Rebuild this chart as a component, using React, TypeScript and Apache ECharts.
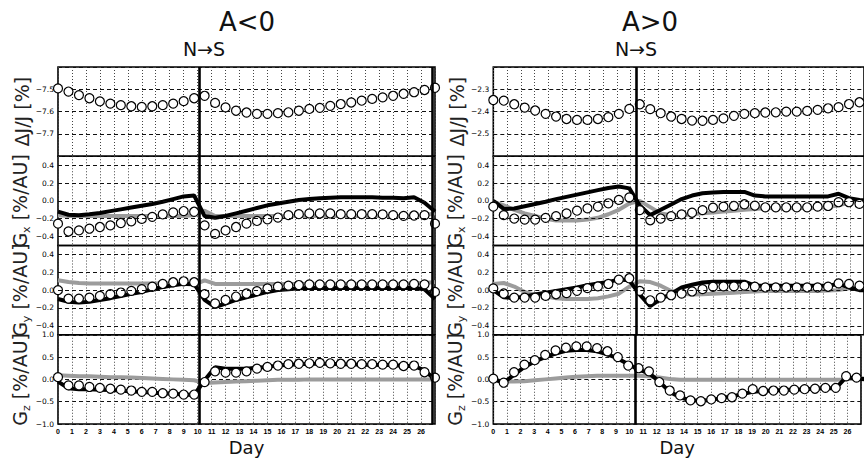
import React, { useEffect, useRef } from 'react';
import * as echarts from 'echarts';

// ---------------- data ----------------
const N_POINTS = 37;
const LEFT_STEP = 0.75;   // days between longitude bins (left panel)
const RIGHT_STEP = 0.762; // days between longitude bins (right panel)
const leftDays = Array.from({ length: N_POINTS }, (_, i) => +(i * LEFT_STEP).toFixed(3));
const rightDays = Array.from({ length: N_POINTS }, (_, i) => +(i * RIGHT_STEP).toFixed(3));

const dayTicks = [0, 1, 2, 3, 4, 5, 6, 7, 8, 9, 10, 11, 12, 13, 14, 15, 16, 17, 18, 19, 20, 21, 22, 23, 24, 25, 26];
const gTicks = [-0.4, -0.2, 0, 0.2, 0.4];

const leftBoundaries = [10.1, 26.8];
const rightBoundaries = [10.4];

// A<0 (left)
const leftDJ = [-7.496, -7.510, -7.526, -7.540, -7.554, -7.564, -7.571, -7.576, -7.579, -7.576, -7.571, -7.564, -7.553, -7.540,
  -7.529, -7.561, -7.581, -7.596, -7.604, -7.610, -7.610, -7.607, -7.603, -7.596, -7.588, -7.583, -7.574, -7.566, -7.559, -7.551,
  -7.543, -7.536, -7.529, -7.520, -7.513, -7.503, -7.493];

const leftGxObs = [-0.255, -0.343, -0.331, -0.312, -0.293, -0.274, -0.248, -0.229, -0.202, -0.179, -0.152, -0.130, -0.114, -0.122,
  -0.274, -0.370, -0.331, -0.293, -0.255, -0.225, -0.206, -0.187, -0.160, -0.149, -0.141, -0.141, -0.141, -0.149, -0.149, -0.149,
  -0.149, -0.152, -0.160, -0.168, -0.164, -0.160, -0.255];
const leftGxModel = [-0.12, -0.155, -0.16, -0.15, -0.135, -0.115, -0.095, -0.075, -0.055, -0.035, -0.01, 0.02, 0.05, 0.06,
  -0.17, -0.19, -0.17, -0.14, -0.11, -0.08, -0.05, -0.03, -0.01, 0.01, 0.02, 0.03, 0.035, 0.04, 0.04, 0.04,
  0.04, 0.035, 0.035, 0.03, 0.04, -0.02, -0.12];
const leftGxGray = [-0.16, -0.17, -0.17, -0.17, -0.17, -0.17, -0.17, -0.17, -0.17, -0.17, -0.17, -0.17, -0.17, -0.16,
  -0.11, -0.17, -0.17, -0.17, -0.17, -0.17, -0.17, -0.17, -0.17, -0.17, -0.17, -0.17, -0.17, -0.17, -0.17, -0.17,
  -0.17, -0.17, -0.17, -0.17, -0.17, -0.16, -0.14];

const leftGyObs = [0.0, -0.095, -0.095, -0.084, -0.065, -0.046, -0.027, -0.008, 0.011, 0.038, 0.069, 0.088, 0.099, 0.088,
  -0.046, -0.149, -0.110, -0.072, -0.038, -0.011, 0.019, 0.038, 0.050, 0.057, 0.065, 0.065, 0.065, 0.065, 0.065, 0.065,
  0.065, 0.065, 0.065, 0.065, 0.069, 0.065, -0.02];
const leftGyModel = [-0.10, -0.13, -0.14, -0.13, -0.11, -0.09, -0.065, -0.04, -0.02, 0.01, 0.035, 0.055, 0.07, 0.07,
  -0.11, -0.19, -0.15, -0.11, -0.08, -0.05, -0.02, 0.0, 0.01, 0.02, 0.025, 0.025, 0.025, 0.025, 0.025, 0.025,
  0.025, 0.025, 0.025, 0.025, 0.025, 0.01, -0.10];
const leftGyGray = [0.11, 0.09, 0.08, 0.075, 0.075, 0.075, 0.075, 0.075, 0.075, 0.075, 0.075, 0.075, 0.07, 0.06,
  0.11, 0.07, 0.07, 0.07, 0.07, 0.07, 0.07, 0.07, 0.07, 0.07, 0.07, 0.07, 0.07, 0.07, 0.07, 0.07,
  0.07, 0.07, 0.07, 0.07, 0.075, 0.08, 0.09];

const leftGzObs = [0.05, -0.135, -0.135, -0.17, -0.19, -0.21, -0.23, -0.25, -0.28, -0.28, -0.31, -0.32, -0.34, -0.34,
  -0.06, 0.18, 0.15, 0.15, 0.18, 0.24, 0.28, 0.31, 0.34, 0.35, 0.36, 0.37, 0.36, 0.35, 0.35, 0.34,
  0.34, 0.33, 0.33, 0.30, 0.31, 0.16, 0.04];
const leftGzModel = [-0.05, -0.2, -0.22, -0.22, -0.23, -0.24, -0.25, -0.27, -0.28, -0.3, -0.31, -0.32, -0.34, -0.35,
  -0.02, 0.27, 0.24, 0.24, 0.24, 0.26, 0.28, 0.31, 0.33, 0.34, 0.35, 0.35, 0.35, 0.34, 0.34, 0.33,
  0.33, 0.32, 0.32, 0.30, 0.30, 0.2, 0.0];
const leftGzGray = [0.09, 0.08, 0.07, 0.07, 0.06, 0.05, 0.05, 0.04, 0.03, 0.02, 0.01, 0.0, -0.01, -0.02,
  -0.08, -0.07, -0.06, -0.05, -0.04, -0.03, -0.02, -0.01, -0.01, -0.01, 0.0, 0.0, 0.0, 0.0, 0.0, 0.0,
  0.0, 0.0, 0.0, 0.0, 0.0, 0.0, 0.0];

// A>0 (right)
const rightDJ = [-2.348, -2.351, -2.367, -2.382, -2.395, -2.410, -2.422, -2.433, -2.437, -2.437, -2.433, -2.425, -2.410, -2.388,
  -2.367, -2.389, -2.407, -2.422, -2.433, -2.440, -2.441, -2.437, -2.430, -2.419, -2.410, -2.407, -2.404, -2.403, -2.400, -2.400,
  -2.397, -2.392, -2.385, -2.380, -2.366, -2.358, -2.350];

const rightGxObs = [-0.065, -0.16, -0.198, -0.21, -0.21, -0.19, -0.171, -0.141, -0.11, -0.084, -0.065, -0.027, 0.011, 0.038,
  -0.103, -0.217, -0.198, -0.171, -0.152, -0.133, -0.103, -0.076, -0.065, -0.057, -0.038, -0.053, -0.072, -0.072, -0.072, -0.072,
  -0.072, -0.065, -0.057, -0.015, -0.015, -0.034, -0.05];
const rightGxModel = [0.0, -0.09, -0.085, -0.06, -0.035, -0.01, 0.02, 0.045, 0.07, 0.095, 0.12, 0.145, 0.16, 0.14,
  -0.05, -0.16, -0.1, -0.04, 0.02, 0.06, 0.085, 0.095, 0.1, 0.1, 0.1, 0.06, 0.05, 0.05, 0.05, 0.05,
  0.05, 0.05, 0.05, 0.08, 0.03, 0.01, 0.0];
const rightGxGray = [-0.01, -0.05, -0.1, -0.14, -0.17, -0.2, -0.22, -0.22, -0.22, -0.21, -0.19, -0.15, -0.1, -0.03,
  0.0, -0.07, -0.14, -0.16, -0.16, -0.15, -0.14, -0.13, -0.12, -0.11, -0.1, -0.09, -0.08, -0.08, -0.08, -0.08,
  -0.08, -0.08, -0.07, -0.05, -0.02, 0.0, 0.0];

const rightGyObs = [0.019, -0.038, -0.084, -0.084, -0.084, -0.065, -0.046, -0.034, -0.008, 0.023, 0.042, 0.069, 0.118, 0.133,
  -0.008, -0.114, -0.084, -0.057, -0.038, -0.015, 0.011, 0.038, 0.042, 0.042, 0.050, 0.038, 0.030, 0.030, 0.030, 0.030,
  0.030, 0.030, 0.038, 0.076, 0.069, 0.050, 0.03];
const rightGyModel = [0.0, -0.08, -0.09, -0.07, -0.05, -0.03, -0.01, 0.01, 0.03, 0.055, 0.075, 0.09, 0.12, 0.11,
  -0.05, -0.18, -0.1, -0.04, 0.03, 0.06, 0.085, 0.095, 0.095, 0.095, 0.095, 0.05, 0.05, 0.05, 0.05, 0.05,
  0.05, 0.05, 0.05, 0.07, 0.03, 0.0, 0.0];
const rightGyGray = [0.07, 0.08, 0.04, -0.02, -0.05, -0.07, -0.09, -0.1, -0.1, -0.1, -0.09, -0.07, -0.04, 0.04,
  0.1, 0.09, 0.05, -0.01, -0.04, -0.05, -0.045, -0.04, -0.035, -0.03, -0.02, -0.015, -0.01, -0.01, -0.01, -0.01,
  -0.01, -0.01, -0.005, 0.0, 0.02, 0.03, 0.03];

const rightGzObs = [0.015, -0.075, 0.16, 0.33, 0.43, 0.55, 0.65, 0.71, 0.74, 0.74, 0.70, 0.63, 0.50, 0.31,
  0.25, 0.18, -0.06, -0.25, -0.36, -0.47, -0.49, -0.45, -0.42, -0.40, -0.32, -0.22, -0.26, -0.25, -0.25, -0.23,
  -0.22, -0.21, -0.19, -0.19, 0.07, 0.04, 0.02];
const rightGzModel = [0.0, -0.07, 0.1, 0.28, 0.4, 0.5, 0.58, 0.64, 0.66, 0.66, 0.63, 0.56, 0.47, 0.34,
  0.22, 0.14, -0.05, -0.28, -0.4, -0.47, -0.48, -0.46, -0.42, -0.38, -0.33, -0.28, -0.26, -0.25, -0.24, -0.23,
  -0.22, -0.21, -0.2, -0.2, 0.05, 0.02, 0.0];
const rightGzGray = [0.0, -0.05, -0.05, -0.04, -0.02, 0.0, 0.02, 0.04, 0.06, 0.07, 0.08, 0.08, 0.08, 0.08,
  0.08, 0.07, 0.04, 0.01, -0.01, -0.01, -0.01, -0.01, -0.01, -0.01, -0.01, -0.01, -0.01, -0.01, -0.01, -0.01,
  -0.01, -0.01, -0.01, -0.01, 0.0, 0.02, 0.02];

// ---------------- layout / style ----------------
const FONT = "'DejaVu Sans', sans-serif";
const ROW_TOP = 67;
const ROW_H = 89.25;
const GRAY = '#9c9c9c';

const fmt = (v: number) => {
  const s = Math.abs(v) < 1e-9 ? '0.0' : v.toFixed(1);
  return s.replace('-', '\u2212');
};

type RowSpec = {
  name: string;
  min: number;
  max: number;
  interval: number;
  kind: 'dj' | 'g' | 'gz';
};

const rowSpecsLeft: RowSpec[] = [
  { name: '{m|ΔJ/J [%]}', min: -7.8, max: -7.4, interval: 0.1, kind: 'dj' },
  { name: '{m|G}{s|x}{m| [%/AU]}', min: -0.5, max: 0.5, interval: 0.1, kind: 'g' },
  { name: '{m|G}{s|y}{m| [%/AU]}', min: -0.5, max: 0.5, interval: 0.1, kind: 'g' },
  { name: '{m|G}{s|z}{m| [%/AU]}', min: -1, max: 1, interval: 0.5, kind: 'gz' },
];
const rowSpecsRight: RowSpec[] = [
  { ...rowSpecsLeft[0], min: -2.6, max: -2.2 },
  rowSpecsLeft[1],
  rowSpecsLeft[2],
  rowSpecsLeft[3],
];

const panels = [
  {
    left: 58, width: 377, days: leftDays, bounds: leftBoundaries, specs: rowSpecsLeft,
    obs: [leftDJ, leftGxObs, leftGyObs, leftGzObs],
    model: [null, leftGxModel, leftGyModel, leftGzModel],
    gray: [null, leftGxGray, leftGyGray, leftGzGray],
  },
  {
    left: 493.3, width: 372, days: rightDays, bounds: rightBoundaries, specs: rowSpecsRight,
    obs: [rightDJ, rightGxObs, rightGyObs, rightGzObs],
    model: [null, rightGxModel, rightGyModel, rightGzModel],
    gray: [null, rightGxGray, rightGyGray, rightGzGray],
  },
];

function buildOption() {
  const grid: any[] = [];
  const xAxis: any[] = [];
  const yAxis: any[] = [];
  const series: any[] = [];

  panels.forEach((p, pi) => {
    p.specs.forEach((spec, r) => {
      const idx = pi * 4 + r;
      grid.push({
        left: p.left, top: ROW_TOP + r * ROW_H, width: p.width, height: ROW_H,
        show: true, borderColor: '#000', borderWidth: 1.6, backgroundColor: 'transparent',
      });
      const isBottom = r === 3;
      xAxis.push({
        type: 'value', gridIndex: idx, min: 0, max: 27, interval: 1,
        axisLine: { show: false }, axisTick: { show: false },
        axisLabel: {
          show: isBottom, fontSize: 7, fontFamily: "'Liberation Sans', sans-serif", fontWeight: 'bold',
          color: '#000', margin: 4,
          formatter: (v: number) => (dayTicks.indexOf(v) >= 0 ? String(v) : ''),
        },
        splitLine: { show: true, lineStyle: { color: '#444', width: 1, type: [1, 2] } },
        name: isBottom ? 'Day' : '',
        nameLocation: 'middle', nameGap: 14,
        nameTextStyle: { fontSize: 18, fontFamily: FONT, color: '#111' },
      });
      const labelFormatter = spec.kind === 'g'
        ? (v: number) => (gTicks.some(t => Math.abs(t - v) < 1e-6) ? fmt(v) : '')
        : (v: number) => fmt(v);
      yAxis.push({
        type: 'value', gridIndex: idx, min: spec.min, max: spec.max, interval: spec.interval,
        axisLine: { show: false }, axisTick: { show: false },
        axisLabel: {
          fontSize: 7.5, fontFamily: FONT, color: '#000', margin: 4,
          showMinLabel: spec.kind !== 'dj', showMaxLabel: spec.kind !== 'dj',
          formatter: labelFormatter,
        },
        splitLine: { show: spec.kind !== 'g', lineStyle: { color: '#111', width: 1, type: [4, 3] } },
        name: spec.name, nameLocation: 'middle', nameRotate: 90, nameGap: 24,
        nameTextStyle: {
          color: '#222',
          rich: {
            m: { fontSize: 19, fontFamily: FONT, color: '#222', lineHeight: 24 },
            s: { fontSize: 11, fontFamily: FONT, color: '#222', lineHeight: 12, verticalAlign: 'bottom' },
          },
        },
      });

      // dashed horizontal grid for G rows
      if (spec.kind === 'g') {
        series.push({
          type: 'line', xAxisIndex: idx, yAxisIndex: idx, data: [], z: 1, silent: true,
          markLine: {
            silent: true, symbol: 'none', label: { show: false },
            lineStyle: { color: '#111', width: 1, type: [4, 3] },
            data: gTicks.map(v => ({ yAxis: v })),
          },
        });
      }
      const gray = p.gray[r];
      if (gray) {
        series.push({
          type: 'line', xAxisIndex: idx, yAxisIndex: idx, z: 2, silent: true,
          showSymbol: false, symbol: 'none',
          lineStyle: { color: GRAY, width: 4 },
          data: p.days.map((d, i) => [d, gray[i]]),
        });
      }
      const model = p.model[r];
      if (model) {
        series.push({
          type: 'line', xAxisIndex: idx, yAxisIndex: idx, z: 3, silent: true,
          showSymbol: false, symbol: 'none',
          lineStyle: { color: '#000', width: 4 },
          data: p.days.map((d, i) => [d, model[i]]),
        });
      }
      const obs = p.obs[r];
      series.push({
        type: 'scatter', xAxisIndex: idx, yAxisIndex: idx, z: 4, silent: true,
        symbol: 'circle', symbolSize: 9,
        itemStyle: { color: '#fff', borderColor: '#000', borderWidth: 1.2, opacity: 1 },
        data: p.days.map((d, i) => [d, obs[i]]),
      });
      // thick boundary lines
      series.push({
        type: 'line', xAxisIndex: idx, yAxisIndex: idx, data: [], z: 5, silent: true,
        markLine: {
          silent: true, symbol: 'none', label: { show: false },
          lineStyle: { color: '#000', width: 2.6, type: 'solid' },
          data: p.bounds.map(x => ({ xAxis: x })),
        },
      });
    });
  });

  const graphic = [
    { type: 'text', x: 247, y: 22, style: { text: 'A<0', fontSize: 26, fontFamily: FONT, fill: '#111', align: 'center', verticalAlign: 'middle', textAlign: 'center', textVerticalAlign: 'middle' } },
    { type: 'text', x: 204, y: 49, style: { text: 'N→S', fontSize: 19, fontFamily: FONT, fill: '#111', align: 'center', verticalAlign: 'middle', textAlign: 'center', textVerticalAlign: 'middle' } },
    { type: 'text', x: 650, y: 22, style: { text: 'A>0', fontSize: 26, fontFamily: FONT, fill: '#111', align: 'center', verticalAlign: 'middle', textAlign: 'center', textVerticalAlign: 'middle' } },
    { type: 'text', x: 636, y: 49, style: { text: 'N→S', fontSize: 19, fontFamily: FONT, fill: '#111', align: 'center', verticalAlign: 'middle', textAlign: 'center', textVerticalAlign: 'middle' } },
  ];

  return {
    animation: false,
    backgroundColor: '#fff',
    grid, xAxis, yAxis, series, graphic,
  };
}

export default function App() {
  const ref = useRef<HTMLDivElement>(null);
  useEffect(() => {
    document.body.style.margin = '0';
    if (!ref.current) return;
    const chart = echarts.init(ref.current, undefined, { renderer: 'svg' });
    chart.setOption(buildOption() as any);
    return () => chart.dispose();
  }, []);
  return <div ref={ref} style={{ width: 864, height: 458 }} />;
}
